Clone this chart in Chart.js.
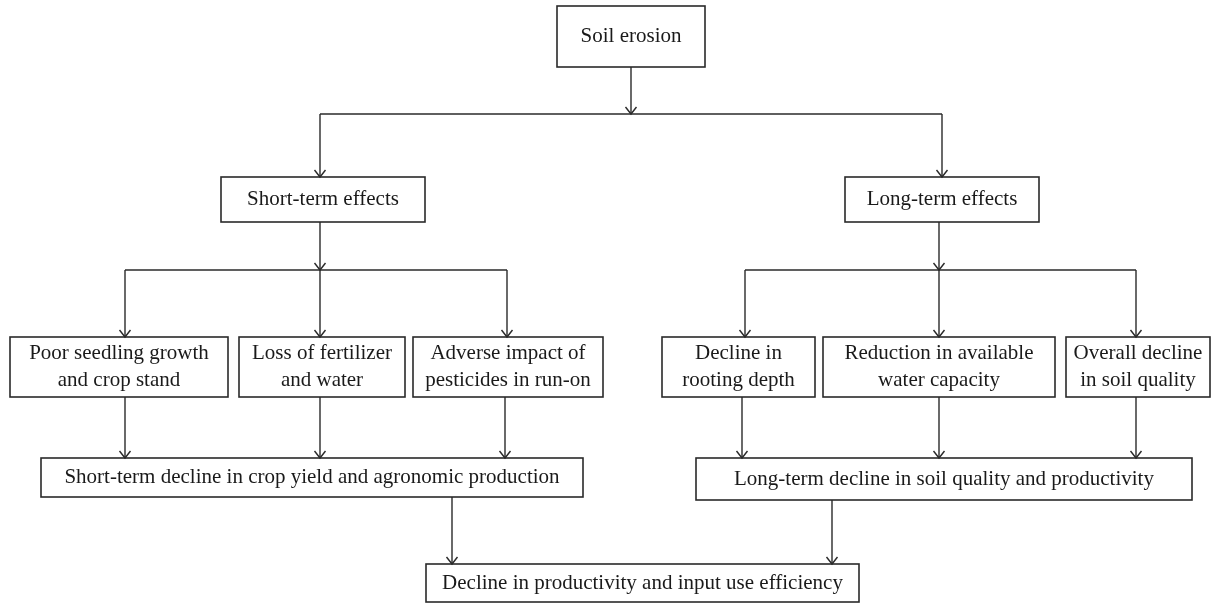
<!DOCTYPE html>
<html>
<head>
<meta charset="utf-8">
<script src="https://cdn.jsdelivr.net/npm/chart.js@4.4.0/dist/chart.umd.min.js"></script>
<style>
  html, body { margin: 0; padding: 0; background: #fff; }
  #wrap { width: 1218px; height: 604px; }
</style>
</head>
<body>
<div id="wrap"><canvas id="flowChart"></canvas></div>
<script>
// node texts (one entry per box, lines split by \n)
var nodeLabels = [
    'Soil erosion',
    'Short-term effects',
    'Long-term effects',
    'Poor seedling growth\nand crop stand',
    'Loss of fertilizer\nand water',
    'Adverse impact of\npesticides in run-on',
    'Decline in\nrooting depth',
    'Reduction in available\nwater capacity',
    'Overall decline\nin soil quality',
    'Short-term decline in crop yield and agronomic production',
    'Long-term decline in soil quality and productivity',
    'Decline in productivity and input use efficiency'
];
// box extents in diagram units (x to the right, y downwards)
var nodeLeft   = [557, 221,  845,  10, 239, 413, 662,  823, 1066,  41,  696, 426];
var nodeRight  = [705, 425, 1039, 228, 405, 603, 815, 1055, 1210, 583, 1192, 859];
var nodeTop    = [  6, 177,  177, 337, 337, 337, 337,  337,  337, 458,  458, 564];
var nodeBottom = [ 67, 222,  222, 397, 397, 397, 397,  397,  397, 497,  500, 602];

// connectors: polylines [x, y]; arrow = arrowhead at the last point
var connectors = [
    { pts: [[631, 67], [631, 114]], arrow: true },
    { pts: [[320, 114], [942, 114]], arrow: false },
    { pts: [[320, 114], [320, 177]], arrow: true },
    { pts: [[942, 114], [942, 177]], arrow: true },
    { pts: [[320, 222], [320, 270]], arrow: true },
    { pts: [[125, 270], [507, 270]], arrow: false },
    { pts: [[125, 270], [125, 337]], arrow: true },
    { pts: [[320, 270], [320, 337]], arrow: true },
    { pts: [[507, 270], [507, 337]], arrow: true },
    { pts: [[939, 222], [939, 270]], arrow: true },
    { pts: [[745, 270], [1136, 270]], arrow: false },
    { pts: [[745, 270], [745, 337]], arrow: true },
    { pts: [[939, 270], [939, 337]], arrow: true },
    { pts: [[1136, 270], [1136, 337]], arrow: true },
    { pts: [[125, 397], [125, 458]], arrow: true },
    { pts: [[320, 397], [320, 458]], arrow: true },
    { pts: [[505, 397], [505, 458]], arrow: true },
    { pts: [[742, 397], [742, 458]], arrow: true },
    { pts: [[939, 397], [939, 458]], arrow: true },
    { pts: [[1136, 397], [1136, 458]], arrow: true },
    { pts: [[452, 497], [452, 564]], arrow: true },
    { pts: [[832, 500], [832, 564]], arrow: true }
];

var flowPlugin = {
    id: 'flow',
    afterDatasetsDraw: function (chart) {
        var ctx = chart.ctx;
        var xs = chart.scales.x, ys = chart.scales.y;
        var px = function (v) { return xs.getPixelForValue(v); };
        var py = function (v) { return ys.getPixelForValue(v); };
        ctx.save();
        ctx.strokeStyle = '#2a2a2a';
        ctx.lineWidth = 1.4;
        connectors.forEach(function (c) {
            ctx.beginPath();
            c.pts.forEach(function (p, i) {
                if (i === 0) ctx.moveTo(px(p[0]), py(p[1]));
                else ctx.lineTo(px(p[0]), py(p[1]));
            });
            ctx.stroke();
            if (c.arrow) {
                var end = c.pts[c.pts.length - 1];
                var ex = px(end[0]), ey = py(end[1]);
                ctx.beginPath();
                ctx.moveTo(ex - 5.5, ey - 7);
                ctx.lineTo(ex, ey);
                ctx.lineTo(ex + 5.5, ey - 7);
                ctx.stroke();
            }
        });
        ctx.lineWidth = 1.6;
        ctx.fillStyle = '#1a1a1a';
        ctx.font = '21px "Liberation Serif", "DejaVu Serif", serif';
        ctx.textAlign = 'center';
        ctx.textBaseline = 'middle';
        nodeLabels.forEach(function (label, i) {
            var l = px(nodeLeft[i]), r = px(nodeRight[i]);
            var t = py(nodeTop[i]), b = py(nodeBottom[i]);
            ctx.strokeRect(l, t, r - l, b - t);
            var lines = label.split('\n');
            var lh = 27;
            var cx = (l + r) / 2, cy = (t + b) / 2;
            lines.forEach(function (ln, k) {
                ctx.fillText(ln, cx, cy + (k - (lines.length - 1) / 2) * lh);
            });
        });
        ctx.restore();
    }
};

var ctx = document.getElementById('flowChart').getContext('2d');
var flowChart = new Chart(ctx, {
    type: 'scatter',
    data: {
        datasets: [{
            data: nodeLabels.map(function (l, i) {
                return { x: (nodeLeft[i] + nodeRight[i]) / 2, y: (nodeTop[i] + nodeBottom[i]) / 2 };
            }),
            pointRadius: 0
        }]
    },
    options: {
        responsive: true,
        maintainAspectRatio: false,
        animation: false,
        layout: { padding: 0 },
        plugins: { legend: { display: false }, tooltip: { enabled: false } },
        scales: {
            x: { type: 'linear', min: 0, max: 1218, display: false },
            y: { type: 'linear', min: 0, max: 604, reverse: true, display: false }
        }
    },
    plugins: [flowPlugin]
});
</script>
</body>
</html>
